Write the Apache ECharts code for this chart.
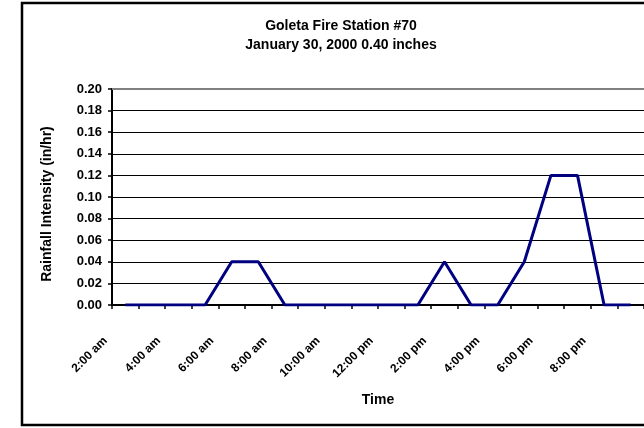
<!DOCTYPE html>
<html>
<head>
<meta charset="utf-8">
<script src="https://cdn.jsdelivr.net/npm/echarts@6/dist/echarts.min.js"></script>
<style>
html,body{margin:0;padding:0;background:#fff;}
#chart{width:644px;height:428px;}
</style>
</head>
<body>
<div id="chart"></div>
<script>
var categories = ["2:00 am","3:00 am","4:00 am","5:00 am","6:00 am","7:00 am","8:00 am","9:00 am","10:00 am","11:00 am","12:00 pm","1:00 pm","2:00 pm","3:00 pm","4:00 pm","5:00 pm","6:00 pm","7:00 pm","8:00 pm","9:00 pm"];
var rainfall = [0,0,0,0,0.04,0.04,0,0,0,0,0,0,0.04,0,0,0.04,0.12,0.12,0,0];
var titleLines = ["Goleta Fire Station #70", "January 30, 2000 0.40 inches"];
var yAxisName = "Rainfall Intensity (in/hr)";
var xAxisName = "Time";
var yMin = 0, yMax = 0.2, yStep = 0.02;

var FONT = "'Liberation Sans', Arial, sans-serif";
var chart = echarts.init(document.getElementById('chart'), null, {renderer: 'canvas'});
var gridColors = [];
for (var i = 0; i < 10; i++) gridColors.push('#000');
gridColors.push('#808080');

chart.setOption({
  backgroundColor: '#fff',
  animation: false,
  title: {
    text: titleLines.join('\n'),
    left: 341,
    top: 17,
    padding: 0,
    textAlign: 'center',
    textStyle: {fontFamily: FONT, fontWeight: 'bold', fontSize: 14, lineHeight: 19, color: '#000'}
  },
  graphic: [{
    type: 'rect',
    shape: {x: 22, y: 3, width: 700, height: 422},
    style: {fill: 'none', stroke: '#000', lineWidth: 2.5},
    silent: true,
    z: 100
  }],
  grid: {left: 112, top: 89, bottom: 123, right: -2, containLabel: false},
  xAxis: {
    type: 'category',
    data: categories,
    boundaryGap: true,
    name: xAxisName,
    nameLocation: 'middle',
    nameGap: 88,
    nameTextStyle: {fontFamily: FONT, fontWeight: 'bold', fontSize: 14, color: '#000'},
    axisLine: {lineStyle: {color: '#000', width: 2}},
    axisTick: {show: true, interval: 0, length: 4, lineStyle: {color: '#000', width: 1.5}},
    axisLabel: {
      interval: 1,
      rotate: 45,
      margin: 14,
      padding: [0, 28, 0, 0],
      fontFamily: FONT, fontWeight: 'bold', fontSize: 12, color: '#000'
    },
    splitLine: {show: false}
  },
  yAxis: {
    type: 'value',
    min: yMin, max: yMax, interval: yStep,
    name: yAxisName,
    nameLocation: 'middle',
    nameGap: 58,
    nameTextStyle: {fontFamily: FONT, fontWeight: 'bold', fontSize: 14, color: '#000', padding: [0, 14, 0, 0]},
    axisLine: {show: true, lineStyle: {color: '#000', width: 2}},
    axisTick: {show: true, length: 4, lineStyle: {color: '#000', width: 1.5}},
    axisLabel: {
      margin: 10,
      formatter: function (v) { return v.toFixed(2); },
      fontFamily: FONT, fontWeight: 'bold', fontSize: 13, color: '#000'
    },
    splitLine: {show: true, lineStyle: {color: gridColors, width: 1}}
  },
  series: [{
    type: 'line',
    data: rainfall,
    symbol: 'none',
    lineStyle: {color: '#000080', width: 3},
    z: 5,
    markLine: {
      silent: true,
      symbol: 'none',
      label: {show: false},
      lineStyle: {color: '#808080', width: 2, type: 'solid'},
      data: [{yAxis: yMax}]
    }
  }]
});
</script>
</body>
</html>
